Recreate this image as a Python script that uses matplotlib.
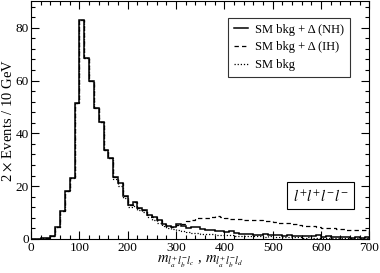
import numpy as np
import matplotlib
matplotlib.use("Agg")
import matplotlib.pyplot as plt
from matplotlib.ticker import MultipleLocator

plt.rcParams['font.family'] = ['Liberation Serif', 'DejaVu Serif']
plt.rcParams['mathtext.fontset'] = 'stix'

# 10 GeV bins from 0 to 700 GeV
bin_edges = np.arange(0, 710, 10)

# SM bkg + Delta (NH), solid
nh = [0, 0, 0.2, 0.5, 1.0, 4.6, 10.7, 18.0, 23.0, 51.5,
      83.0, 68.4, 60.0, 49.5, 44.3, 33.8, 30.8, 23.3, 21.0, 16.2,
      12.8, 14.1, 11.6, 11.0, 9.1, 8.2, 7.2, 5.7, 4.9, 4.5,
      5.7, 5.0, 4.0, 4.6, 4.4, 3.9, 3.4, 3.3, 2.8, 2.9,
      2.6, 2.8, 2.3, 1.9, 2.0, 1.8, 1.6, 1.5, 1.7, 1.3,
      1.5, 1.4, 1.2, 1.3, 1.1, 1.2, 1.0, 1.1, 0.9, 1.3,
      0.8, 0.9, 0.7, 0.8, 0.6, 0.7, 0.5, 0.6, 0.5, 0.6]

# SM bkg + Delta (IH), dashed
ih = [0, 0, 0.2, 0.5, 1.0, 4.6, 10.7, 18.0, 23.0, 51.5,
      83.0, 68.4, 60.0, 49.5, 44.3, 33.8, 30.8, 23.3, 21.0, 16.2,
      12.8, 14.1, 11.6, 11.0, 9.1, 8.2, 7.2, 5.5, 4.8, 4.6,
      5.2, 5.8, 6.8, 7.3, 7.8, 8.0, 8.0, 8.2, 8.5, 8.3,
      7.8, 7.6, 7.5, 7.5, 7.3, 7.1, 7.0, 7.0, 6.6, 6.6,
      6.3, 6.1, 6.2, 5.9, 5.6, 5.1, 5.0, 4.9, 4.8, 4.6,
      4.3, 4.1, 4.0, 3.9, 3.8, 3.5, 3.4, 3.3, 3.4, 3.3]

# SM bkg, dotted
sm = [0, 0, 0.2, 0.5, 1.0, 4.6, 10.7, 18.0, 23.0, 51.5,
      83.0, 68.4, 60.0, 49.5, 44.3, 33.8, 30.8, 22.5, 20.0, 15.5,
      12.0, 12.5, 11.0, 10.0, 8.3, 7.3, 6.2, 5.0, 4.2, 3.6,
      3.3, 2.9, 2.6, 2.4, 2.2, 2.0, 1.9, 1.7, 1.6, 1.5,
      1.3, 1.4, 1.2, 1.1, 1.0, 1.1, 0.9, 0.9, 0.8, 0.9,
      0.7, 0.8, 0.7, 0.6, 0.7, 0.6, 0.5, 0.6, 0.5, 0.5,
      0.4, 0.5, 0.4, 0.4, 0.3, 0.4, 0.3, 0.3, 0.3, 0.3]

fig = plt.figure(figsize=(3.8, 2.73), dpi=100)
ax = fig.add_axes([0.082, 0.125, 0.890, 0.870])

ax.stairs(sm, bin_edges, color='black', linestyle=(0, (1, 1.5)), linewidth=0.9,
          label='SM bkg')
ax.stairs(ih, bin_edges, color='black', linestyle=(0, (3.5, 2.5)), linewidth=0.9,
          label='SM bkg + Δ (IH)')
ax.stairs(nh, bin_edges, color='black', linestyle='-', linewidth=1.1,
          label='SM bkg + Δ (NH)')

ax.set_xlim(0, 700)
ax.set_ylim(0, 90)
ax.xaxis.set_major_locator(MultipleLocator(100))
ax.xaxis.set_minor_locator(MultipleLocator(20))
ax.yaxis.set_major_locator(MultipleLocator(20))
ax.yaxis.set_minor_locator(MultipleLocator(4))
ax.tick_params(which='both', direction='in', top=True, right=True,
               labelsize=9.5, pad=2)
ax.tick_params(axis='y', which='major', pad=1.5)
ax.tick_params(which='major', length=6, width=0.8)
ax.tick_params(which='minor', length=3, width=0.8)

ax.set_ylabel(r'2 $\times$ Events / 10 GeV', fontsize=10.5)
ax.yaxis.label.set_va('center')
ax.yaxis.set_label_coords(-0.068, 0.5)
ax.set_xlabel(r'$m_{l_a^{+} l_b^{-} l_c}$ , $m_{l_a^{+} l_b^{-} l_d}$',
              fontsize=10.5, labelpad=0)

handles, labels = ax.get_legend_handles_labels()
leg = ax.legend(handles[::-1], labels[::-1], loc='upper right',
                bbox_to_anchor=(0.944, 0.932), borderaxespad=0,
                fontsize=9, frameon=True, fancybox=False, edgecolor='black',
                handlelength=1.1, handletextpad=0.6, borderpad=0.5,
                labelspacing=0.45)
leg.get_frame().set_linewidth(0.8)

ax.text(599, 16.4, r'$l^{+}l^{+}l^{-}l^{-}$', fontsize=10.5, ha='center',
        va='center',
        bbox=dict(boxstyle='square,pad=0.4', facecolor='white',
                  edgecolor='black', linewidth=0.8))

fig.savefig('out.png', dpi=100)
